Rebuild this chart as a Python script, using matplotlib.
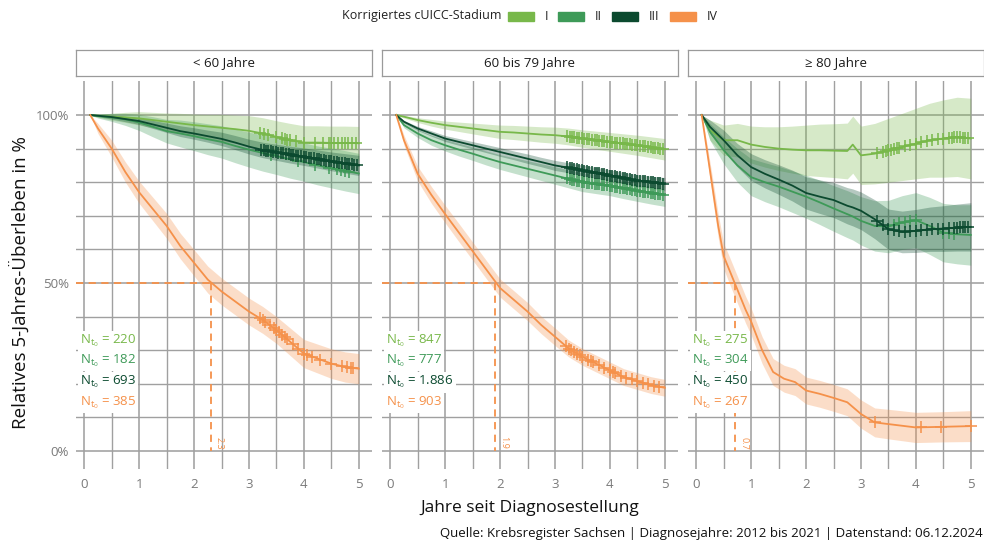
import numpy as np
import matplotlib
matplotlib.use("Agg")
import matplotlib.pyplot as plt
from matplotlib.patches import Rectangle

plt.rcParams['font.family'] = ['Open Sans', 'DejaVu Sans']
plt.rcParams['mathtext.fontset'] = 'custom'
plt.rcParams['mathtext.rm'] = 'Open Sans'
plt.rcParams['mathtext.it'] = 'Open Sans'

# ---------------- data ----------------
stages = ["I", "II", "III", "IV"]
colors = {"I": "#78b84a", "II": "#3e9a58", "III": "#0b4a2f", "IV": "#f5914a"}
panels = ["< 60 Jahre", "60 bis 79 Jahre", "\u2265 80 Jahre"]
x_ticks = [0, 1, 2, 3, 4, 5]
y_ticks = [0, 0.5, 1.0]
y_tick_labels = ["0%", "50%", "100%"]

T = [0.11, 0.25, 0.5, 0.75, 1.0, 1.25, 1.5, 1.75, 2.0, 2.25, 2.5, 2.75, 3.0,
     3.25, 3.5, 3.75, 4.0, 4.25, 4.5, 4.75, 5.0]
T3g = [0.1, 0.25, 0.5, 0.75, 1.0, 1.25, 1.5, 1.75, 2.0, 2.25, 2.5, 2.75, 2.85,
       3.0, 3.25, 3.5, 3.75, 4.0, 4.25, 4.5, 4.75, 5.0]
T3o = [0.1, 0.2, 0.3, 0.4, 0.5, 0.6, 0.7, 0.8, 0.9, 1.0, 1.2, 1.4, 1.6, 1.8,
       2.0, 2.25, 2.5, 2.75, 3.0, 3.25, 3.5, 4.0, 4.5, 5.0]

# panel 1 (< 60)
p1_I = [1.0, 0.998, 0.995, 0.993, 0.99, 0.985, 0.98, 0.975, 0.97, 0.966, 0.962,
        0.958, 0.953, 0.945, 0.935, 0.925, 0.918, 0.918, 0.917, 0.917, 0.916]
p1_I_ci = [0, 0.005, 0.01, 0.015, 0.02, 0.023, 0.026, 0.03, 0.033, 0.036, 0.04,
           0.042, 0.045, 0.047, 0.048, 0.05, 0.05, 0.05, 0.05, 0.05, 0.05]
p1_II = [1.0, 0.997, 0.993, 0.987, 0.978, 0.965, 0.952, 0.945, 0.937, 0.928, 0.92,
         0.908, 0.897, 0.887, 0.878, 0.868, 0.86, 0.85, 0.842, 0.834, 0.826]
p1_II_ci = [0, 0.006, 0.012, 0.018, 0.024, 0.03, 0.035, 0.04, 0.043, 0.046, 0.048,
            0.05, 0.052, 0.054, 0.055, 0.056, 0.057, 0.058, 0.059, 0.06, 0.06]
p1_III = [1.0, 0.998, 0.994, 0.988, 0.982, 0.972, 0.962, 0.952, 0.945, 0.937, 0.929,
          0.918, 0.906, 0.896, 0.889, 0.882, 0.876, 0.869, 0.862, 0.856, 0.85]
p1_III_ci = [0, 0.003, 0.006, 0.008, 0.01, 0.012, 0.014, 0.016, 0.017, 0.018, 0.02,
             0.021, 0.022, 0.023, 0.024, 0.025, 0.026, 0.027, 0.028, 0.029, 0.03]
p1_IV = [1.0, 0.96, 0.90, 0.83, 0.77, 0.72, 0.67, 0.61, 0.56, 0.51, 0.475, 0.445,
         0.415, 0.39, 0.36, 0.325, 0.29, 0.275, 0.26, 0.25, 0.245]
p1_IV_ci = [0, 0.015, 0.025, 0.03, 0.033, 0.035, 0.037, 0.038, 0.039, 0.04, 0.04,
            0.04, 0.04, 0.04, 0.04, 0.041, 0.042, 0.043, 0.044, 0.045, 0.045]

# panel 2 (60-79)
p2_I = [1.0, 0.995, 0.985, 0.977, 0.97, 0.965, 0.96, 0.955, 0.95, 0.948, 0.945,
        0.942, 0.94, 0.936, 0.93, 0.925, 0.92, 0.915, 0.91, 0.904, 0.898]
p2_I_ci = [0, 0.004, 0.007, 0.01, 0.012, 0.014, 0.016, 0.018, 0.02, 0.021, 0.022,
           0.023, 0.024, 0.025, 0.026, 0.027, 0.028, 0.029, 0.03, 0.031, 0.032]
p2_II = [1.0, 0.97, 0.945, 0.925, 0.91, 0.897, 0.885, 0.872, 0.86, 0.85, 0.84,
         0.83, 0.82, 0.81, 0.80, 0.795, 0.79, 0.782, 0.775, 0.768, 0.762]
p2_II_ci = [0, 0.008, 0.012, 0.015, 0.017, 0.019, 0.02, 0.021, 0.022, 0.023, 0.024,
            0.025, 0.026, 0.027, 0.028, 0.029, 0.03, 0.031, 0.032, 0.033, 0.034]
p2_III = [1.0, 0.98, 0.96, 0.945, 0.93, 0.92, 0.91, 0.90, 0.89, 0.88, 0.87, 0.86,
          0.85, 0.843, 0.835, 0.828, 0.82, 0.812, 0.805, 0.80, 0.795]
p2_III_ci = [0, 0.004, 0.006, 0.008, 0.009, 0.01, 0.011, 0.012, 0.013, 0.013, 0.014,
             0.014, 0.015, 0.015, 0.016, 0.016, 0.017, 0.017, 0.018, 0.018, 0.019]
p2_IV = [1.0, 0.925, 0.825, 0.762, 0.705, 0.65, 0.595, 0.54, 0.485, 0.45, 0.415,
         0.375, 0.34, 0.305, 0.28, 0.26, 0.24, 0.22, 0.208, 0.196, 0.188]
p2_IV_ci = [0, 0.015, 0.022, 0.025, 0.026, 0.027, 0.027, 0.027, 0.027, 0.027, 0.027,
            0.026, 0.026, 0.025, 0.025, 0.025, 0.025, 0.025, 0.025, 0.025, 0.025]

# panel 3 (>= 80)
p3_I = [1.0, 0.955, 0.925, 0.925, 0.912, 0.905, 0.90, 0.897, 0.895, 0.895, 0.894,
        0.893, 0.912, 0.88, 0.885, 0.895, 0.905, 0.915, 0.925, 0.93, 0.935, 0.93]
p3_I_ci = [0, 0.03, 0.045, 0.05, 0.055, 0.06, 0.065, 0.07, 0.075, 0.078, 0.08, 0.083,
           0.085, 0.087, 0.09, 0.095, 0.1, 0.105, 0.11, 0.115, 0.118, 0.12]
p3_II = [1.0, 0.95, 0.895, 0.85, 0.815, 0.80, 0.787, 0.772, 0.757, 0.74, 0.722, 0.705,
         0.698, 0.685, 0.67, 0.668, 0.68, 0.687, 0.67, 0.65, 0.645, 0.643]
p3_II_ci = [0, 0.025, 0.04, 0.05, 0.055, 0.058, 0.06, 0.062, 0.064, 0.066, 0.068, 0.07,
            0.07, 0.072, 0.075, 0.078, 0.08, 0.082, 0.085, 0.087, 0.088, 0.09]
p3_III = [1.0, 0.965, 0.925, 0.88, 0.845, 0.825, 0.808, 0.79, 0.768, 0.757, 0.747,
          0.73, 0.725, 0.715, 0.69, 0.66, 0.652, 0.655, 0.66, 0.662, 0.665, 0.667]
p3_III_ci = [0, 0.02, 0.03, 0.035, 0.04, 0.042, 0.044, 0.046, 0.048, 0.05, 0.052, 0.054,
             0.055, 0.056, 0.058, 0.06, 0.062, 0.064, 0.066, 0.068, 0.07, 0.072]
p3_IV = [1.0, 0.89, 0.78, 0.67, 0.58, 0.54, 0.50, 0.46, 0.42, 0.385, 0.30, 0.235,
         0.215, 0.205, 0.18, 0.17, 0.158, 0.145, 0.11, 0.085, 0.08, 0.07, 0.072, 0.074]
p3_IV_ci = [0, 0.02, 0.03, 0.035, 0.038, 0.04, 0.04, 0.04, 0.04, 0.04, 0.04, 0.04,
            0.04, 0.04, 0.04, 0.04, 0.04, 0.04, 0.042, 0.043, 0.044, 0.045, 0.045, 0.046]

# censor times
cens_dense = [3.22, 3.27, 3.31, 3.35, 3.4, 3.44, 3.49, 3.53, 3.58, 3.62, 3.67, 3.72,
              3.76, 3.81, 3.86, 3.9, 3.95, 4.0, 4.04, 4.09, 4.13, 4.18, 4.23, 4.27,
              4.32, 4.37, 4.41, 4.46, 4.5, 4.55, 4.6, 4.64, 4.69, 4.74, 4.78, 4.83,
              4.88, 4.92, 4.96]
p1_I_c = [3.2, 3.28, 3.35, 3.5, 3.6, 3.65, 3.7, 3.75, 3.85, 4.0, 4.2, 4.35, 4.45,
          4.5, 4.55, 4.62, 4.7, 4.75, 4.8, 4.88, 4.95]
p1_II_c = [3.4, 3.9, 4.2, 4.45, 4.6, 4.68, 4.75, 4.82]
p1_IV_c = [3.2, 3.25, 3.3, 3.38, 3.45, 3.5, 3.55, 3.6, 3.65, 3.7, 3.8, 3.9, 4.0,
           4.05, 4.15, 4.3, 4.5, 4.7, 4.78, 4.85, 4.9]
p2_IV_c = [3.2, 3.25, 3.3, 3.35, 3.4, 3.45, 3.5, 3.6, 3.65, 3.7, 3.8, 3.9, 4.0,
           4.05, 4.1, 4.2, 4.3, 4.4, 4.5, 4.6, 4.7, 4.8, 4.9]
p3_I_c = [3.3, 3.4, 3.45, 3.5, 3.55, 3.6, 3.65, 3.7, 3.8, 3.9, 4.0, 4.1, 4.2, 4.3,
          4.4, 4.5, 4.6, 4.65, 4.7, 4.75, 4.8, 4.85, 4.9, 4.95]
p3_II_c = [3.6, 3.7, 3.8, 3.9, 4.0, 4.5, 4.6, 4.7]
p3_III_c = [3.3, 3.4, 3.5, 3.6, 3.7, 3.8, 3.9, 4.0, 4.1, 4.2, 4.3, 4.4, 4.5, 4.6,
            4.7, 4.75, 4.8, 4.85, 4.9, 4.95]
p3_IV_c = [3.25, 4.1, 4.45, 5.0]

medians = [2.3, 1.9, 0.7]
n_counts = [["220", "182", "693", "385"],
            ["847", "777", "1.886", "903"],
            ["275", "304", "450", "267"]]

panel_data = [
    {"I": (T, p1_I, p1_I_ci, p1_I_c), "II": (T, p1_II, p1_II_ci, p1_II_c),
     "III": (T, p1_III, p1_III_ci, cens_dense), "IV": (T, p1_IV, p1_IV_ci, p1_IV_c)},
    {"I": (T, p2_I, p2_I_ci, cens_dense), "II": (T, p2_II, p2_II_ci, cens_dense),
     "III": (T, p2_III, p2_III_ci, cens_dense), "IV": (T, p2_IV, p2_IV_ci, p2_IV_c)},
    {"I": (T3g, p3_I, p3_I_ci, p3_I_c), "II": (T3g, p3_II, p3_II_ci, p3_II_c),
     "III": (T3g, p3_III, p3_III_ci, p3_III_c), "IV": (T3o, p3_IV, p3_IV_ci, p3_IV_c)},
]

# ---------------- figure ----------------
W, H = 984, 541
fig = plt.figure(figsize=(W / 100, H / 100), dpi=100)

def fx(px):
    return px / W

def fy(py):
    return 1 - py / H

grid_col = "#a0a0a0"
lefts = [76, 382, 688]
pw = 296
top_px, bot_px = 80.6, 468.6

for i, left in enumerate(lefts):
    ax = fig.add_axes([fx(left), fy(bot_px), pw / W, (bot_px - top_px) / H])
    ax.set_xlim(-0.15, 5.24)
    ax.set_ylim(-0.0525, 1.1025)
    for s in ax.spines.values():
        s.set_visible(False)
    ax.set_xticks(x_ticks)
    ax.set_xticks([0.5, 1.5, 2.5, 3.5, 4.5], minor=True)
    ax.set_yticks(y_ticks)
    ax.set_yticks([0.1, 0.2, 0.3, 0.4, 0.6, 0.7, 0.8, 0.9, 1.0], minor=True)
    ax.grid(True, which="major", color=grid_col, lw=1.15, zorder=0)
    ax.grid(True, which="minor", color=grid_col, lw=1.0, zorder=0)
    ax.tick_params(which="both", length=0)
    ax.set_xticklabels([str(v) for v in x_ticks], color="#7a7a7a", fontsize=9.5)
    if i == 0:
        ax.set_yticklabels(y_tick_labels, color="#7a7a7a", fontsize=9.5)
    else:
        ax.set_yticklabels([])
    ax.tick_params(axis="x", pad=7)
    ax.tick_params(axis="y", pad=5)
    ax.set_axisbelow(True)

    d = panel_data[i]
    for st in stages:
        t, s, ci, c = d[st]
        t = np.array(t); s = np.array(s); ci = np.array(ci)
        ax.fill_between(t, s - ci, s + ci, color=colors[st], alpha=0.3, lw=0, zorder=2)
    for st in stages:
        t, s, ci, c = d[st]
        ax.plot(t, s, color=colors[st], lw=1.3, zorder=4)
        cy = np.interp(c, t, s)
        ax.plot(c, cy, ls="none", marker="+", ms=8, mew=1.1, color=colors[st], zorder=5)

    # median lines
    m = medians[i]
    ax.plot([-0.15, m], [0.5, 0.5], ls=(0, (4, 3)), color=colors["IV"], lw=1.3, zorder=3)
    ax.plot([m, m], [0.5, 0.0], ls=(0, (4, 3)), color=colors["IV"], lw=1.3, zorder=3)
    ax.text(m + 0.08, 0.005, f"{m:.1f}", rotation=270, color=colors["IV"],
            fontsize=6.5, ha="left", va="bottom", zorder=6)

    # N labels
    for k, st in enumerate(stages):
        ax.text(-0.08, [0.327, 0.268, 0.205, 0.143][k],
                r"N$_{\mathrm{t_0}}$ = " + n_counts[i][k],
                color=colors[st], fontsize=9.5, ha="left", va="center", zorder=7,
                bbox=dict(facecolor="white", edgecolor="none", pad=1.6))

    # strip
    sax = fig.add_axes([fx(left), fy(76), pw / W, 26 / H])
    sax.set_xticks([]); sax.set_yticks([])
    sax.set_facecolor("white")
    for s in sax.spines.values():
        s.set_color("#9a9a9a"); s.set_linewidth(0.9)
    sax.text(0.5, 0.5, panels[i], ha="center", va="center", fontsize=9.5,
             color="#1a1a1a", transform=sax.transAxes)

# axis titles
fig.text(fx(20), fy(283), "Relatives 5-Jahres-\u00dcberleben in %", rotation=90,
         ha="center", va="center", fontsize=13.5, color="#111111")
fig.text(fx(530), fy(508), "Jahre seit Diagnosestellung", ha="center", va="center",
         fontsize=12.5, color="#111111")
fig.text(fx(983), fy(533), "Quelle: Krebsregister Sachsen | Diagnosejahre: 2012 bis 2021 | Datenstand: 06.12.2024",
         ha="right", va="center", fontsize=9.5, color="#111111")

# legend
fig.text(fx(342), fy(16), "Korrigiertes cUICC-Stadium", ha="left", va="center",
         fontsize=9, color="#222222")
leg_x = [508, 558, 612, 670]
for k, st in enumerate(stages):
    fig.patches.append(Rectangle((fx(leg_x[k]), fy(20.5)), 26 / W, 9 / H,
                                 transform=fig.transFigure, color=colors[st]))
    fig.text(fx(leg_x[k] + 37), fy(16), st, ha="left", va="center", fontsize=9,
             color="#222222")

fig.savefig("out.png", dpi=100)
